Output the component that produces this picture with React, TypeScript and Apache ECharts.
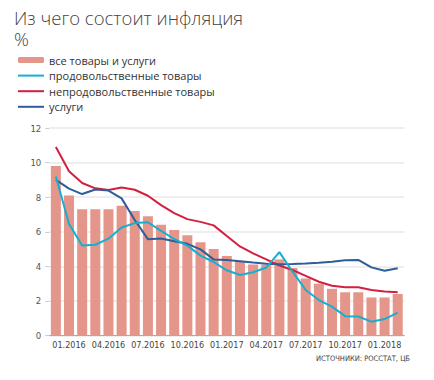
import React, { useEffect, useRef } from "react";
import * as echarts from "echarts";

const categories = [
  "01.2016", "02.2016", "03.2016", "04.2016", "05.2016", "06.2016", "07.2016", "08.2016", "09.2016",
  "10.2016", "11.2016", "12.2016", "01.2017", "02.2017", "03.2017", "04.2017", "05.2017", "06.2017",
  "07.2017", "08.2017", "09.2017", "10.2017", "11.2017", "12.2017", "01.2018", "02.2018", "03.2018",
];

const allGoods = [9.8, 8.1, 7.3, 7.3, 7.3, 7.5, 7.2, 6.9, 6.4, 6.1, 5.8, 5.4, 5.0, 4.6, 4.3, 4.1, 4.1, 4.4, 3.9, 3.3, 3.0, 2.7, 2.5, 2.5, 2.2, 2.2, 2.4];
const food = [9.2, 6.45, 5.2, 5.25, 5.6, 6.25, 6.5, 6.55, 6.05, 5.58, 5.2, 4.62, 4.25, 3.77, 3.5, 3.66, 3.93, 4.82, 3.69, 2.63, 2.05, 1.67, 1.12, 1.1, 0.8, 0.95, 1.32];
const nonFood = [10.9, 9.5, 8.82, 8.51, 8.41, 8.56, 8.43, 8.08, 7.54, 7.08, 6.73, 6.57, 6.37, 5.75, 5.15, 4.75, 4.4, 4.05, 3.79, 3.45, 3.11, 2.88, 2.79, 2.79, 2.63, 2.54, 2.5];
const services = [9.0, 8.49, 8.18, 8.44, 8.38, 7.93, 6.68, 5.57, 5.61, 5.45, 5.3, 4.98, 4.4, 4.36, 4.3, 4.22, 4.15, 4.12, 4.14, 4.17, 4.21, 4.27, 4.35, 4.37, 3.94, 3.75, 3.89];

const seriesNames = ["все товары и услуги", "продовольственные товары", "непродовольственные товары", "услуги"];
const titleText = "Из чего состоит инфляция";
const unitText = "%";
const sourceText = "ИСТОЧНИКИ: РОССТАТ, ЦБ";

const narrow = "'DejaVu Sans Condensed', 'Liberation Sans Narrow', sans-serif";
const hidden = { color: "rgba(0,0,0,0)", borderWidth: 0 };
const titleStyle = {
  fontFamily: "'Open Sans', sans-serif",
  fontWeight: 300,
  fontSize: 18.5,
  fill: "#444",
};

export default function App() {
  const ref = useRef<HTMLDivElement>(null);
  useEffect(() => {
    if (!ref.current) return;
    const chart = echarts.init(ref.current, null, { renderer: "svg" });
    chart.setOption({
      animation: false,
      backgroundColor: "#fff",
      legend: {
        orient: "vertical",
        left: 17,
        top: 53,
        padding: 0,
        itemWidth: 26,
        itemHeight: 6,
        itemGap: 1.6,
        textStyle: { fontFamily: "'Open Sans', sans-serif", fontSize: 11, color: "#333", lineHeight: 14 },
        data: [
          { name: seriesNames[0] },
          { name: seriesNames[1], itemStyle: hidden },
          { name: seriesNames[2], itemStyle: hidden },
          { name: seriesNames[3], itemStyle: hidden },
        ],
      },
      grid: { left: 49.3, right: 29.7, top: 128, bottom: 44.5, containLabel: false },
      xAxis: {
        type: "category",
        data: categories,
        boundaryGap: true,
        axisLine: { lineStyle: { color: "#aaa", width: 1 } },
        axisTick: { interval: (i: number) => i % 3 === 0, length: 4, lineStyle: { color: "#aaa" } },
        axisLabel: {
          interval: (i: number) => i % 3 === 1,
          formatter: (_v: string, i: number) => categories[i - 1],
          fontFamily: narrow,
          fontSize: 9,
          color: "#444",
          margin: 5,
        },
      },
      yAxis: {
        type: "value",
        min: 0,
        max: 12,
        interval: 2,
        axisLine: { show: false },
        axisTick: { show: true, length: 4, lineStyle: { color: "#ccc" } },
        axisLabel: { fontFamily: narrow, fontSize: 9.5, color: "#555", margin: 8 },
        splitLine: { lineStyle: { color: "#e9e9e9", width: 1.5 } },
      },
      series: [
        {
          name: seriesNames[0],
          type: "bar",
          data: allGoods,
          barWidth: 10,
          itemStyle: { color: "#E4968B" },
        },
        {
          name: seriesNames[1],
          type: "line",
          data: food,
          symbol: "none",
          z: 4,
          lineStyle: { color: "#17AECF", width: 2 },
          itemStyle: { color: "#17AECF" },
        },
        {
          name: seriesNames[2],
          type: "line",
          data: nonFood,
          symbol: "none",
          z: 3,
          lineStyle: { color: "#D41F3F", width: 2 },
          itemStyle: { color: "#D41F3F" },
        },
        {
          name: seriesNames[3],
          type: "line",
          data: services,
          symbol: "none",
          z: 3,
          lineStyle: { color: "#2E5D9B", width: 2 },
          itemStyle: { color: "#2E5D9B" },
        },
      ],
      graphic: [
        { type: "text", left: 14, top: 7.5, style: { ...titleStyle, text: titleText } },
        { type: "text", left: 14, top: 28.5, style: { ...titleStyle, text: unitText } },
        {
          type: "text",
          right: 24,
          top: 354,
          style: { text: sourceText, fontFamily: narrow, fontSize: 7.5, fill: "#444" },
        },
      ],
    });
    return () => chart.dispose();
  }, []);
  return <div ref={ref} style={{ position: "fixed", left: 0, top: 0, width: 434, height: 380 }} />;
}
